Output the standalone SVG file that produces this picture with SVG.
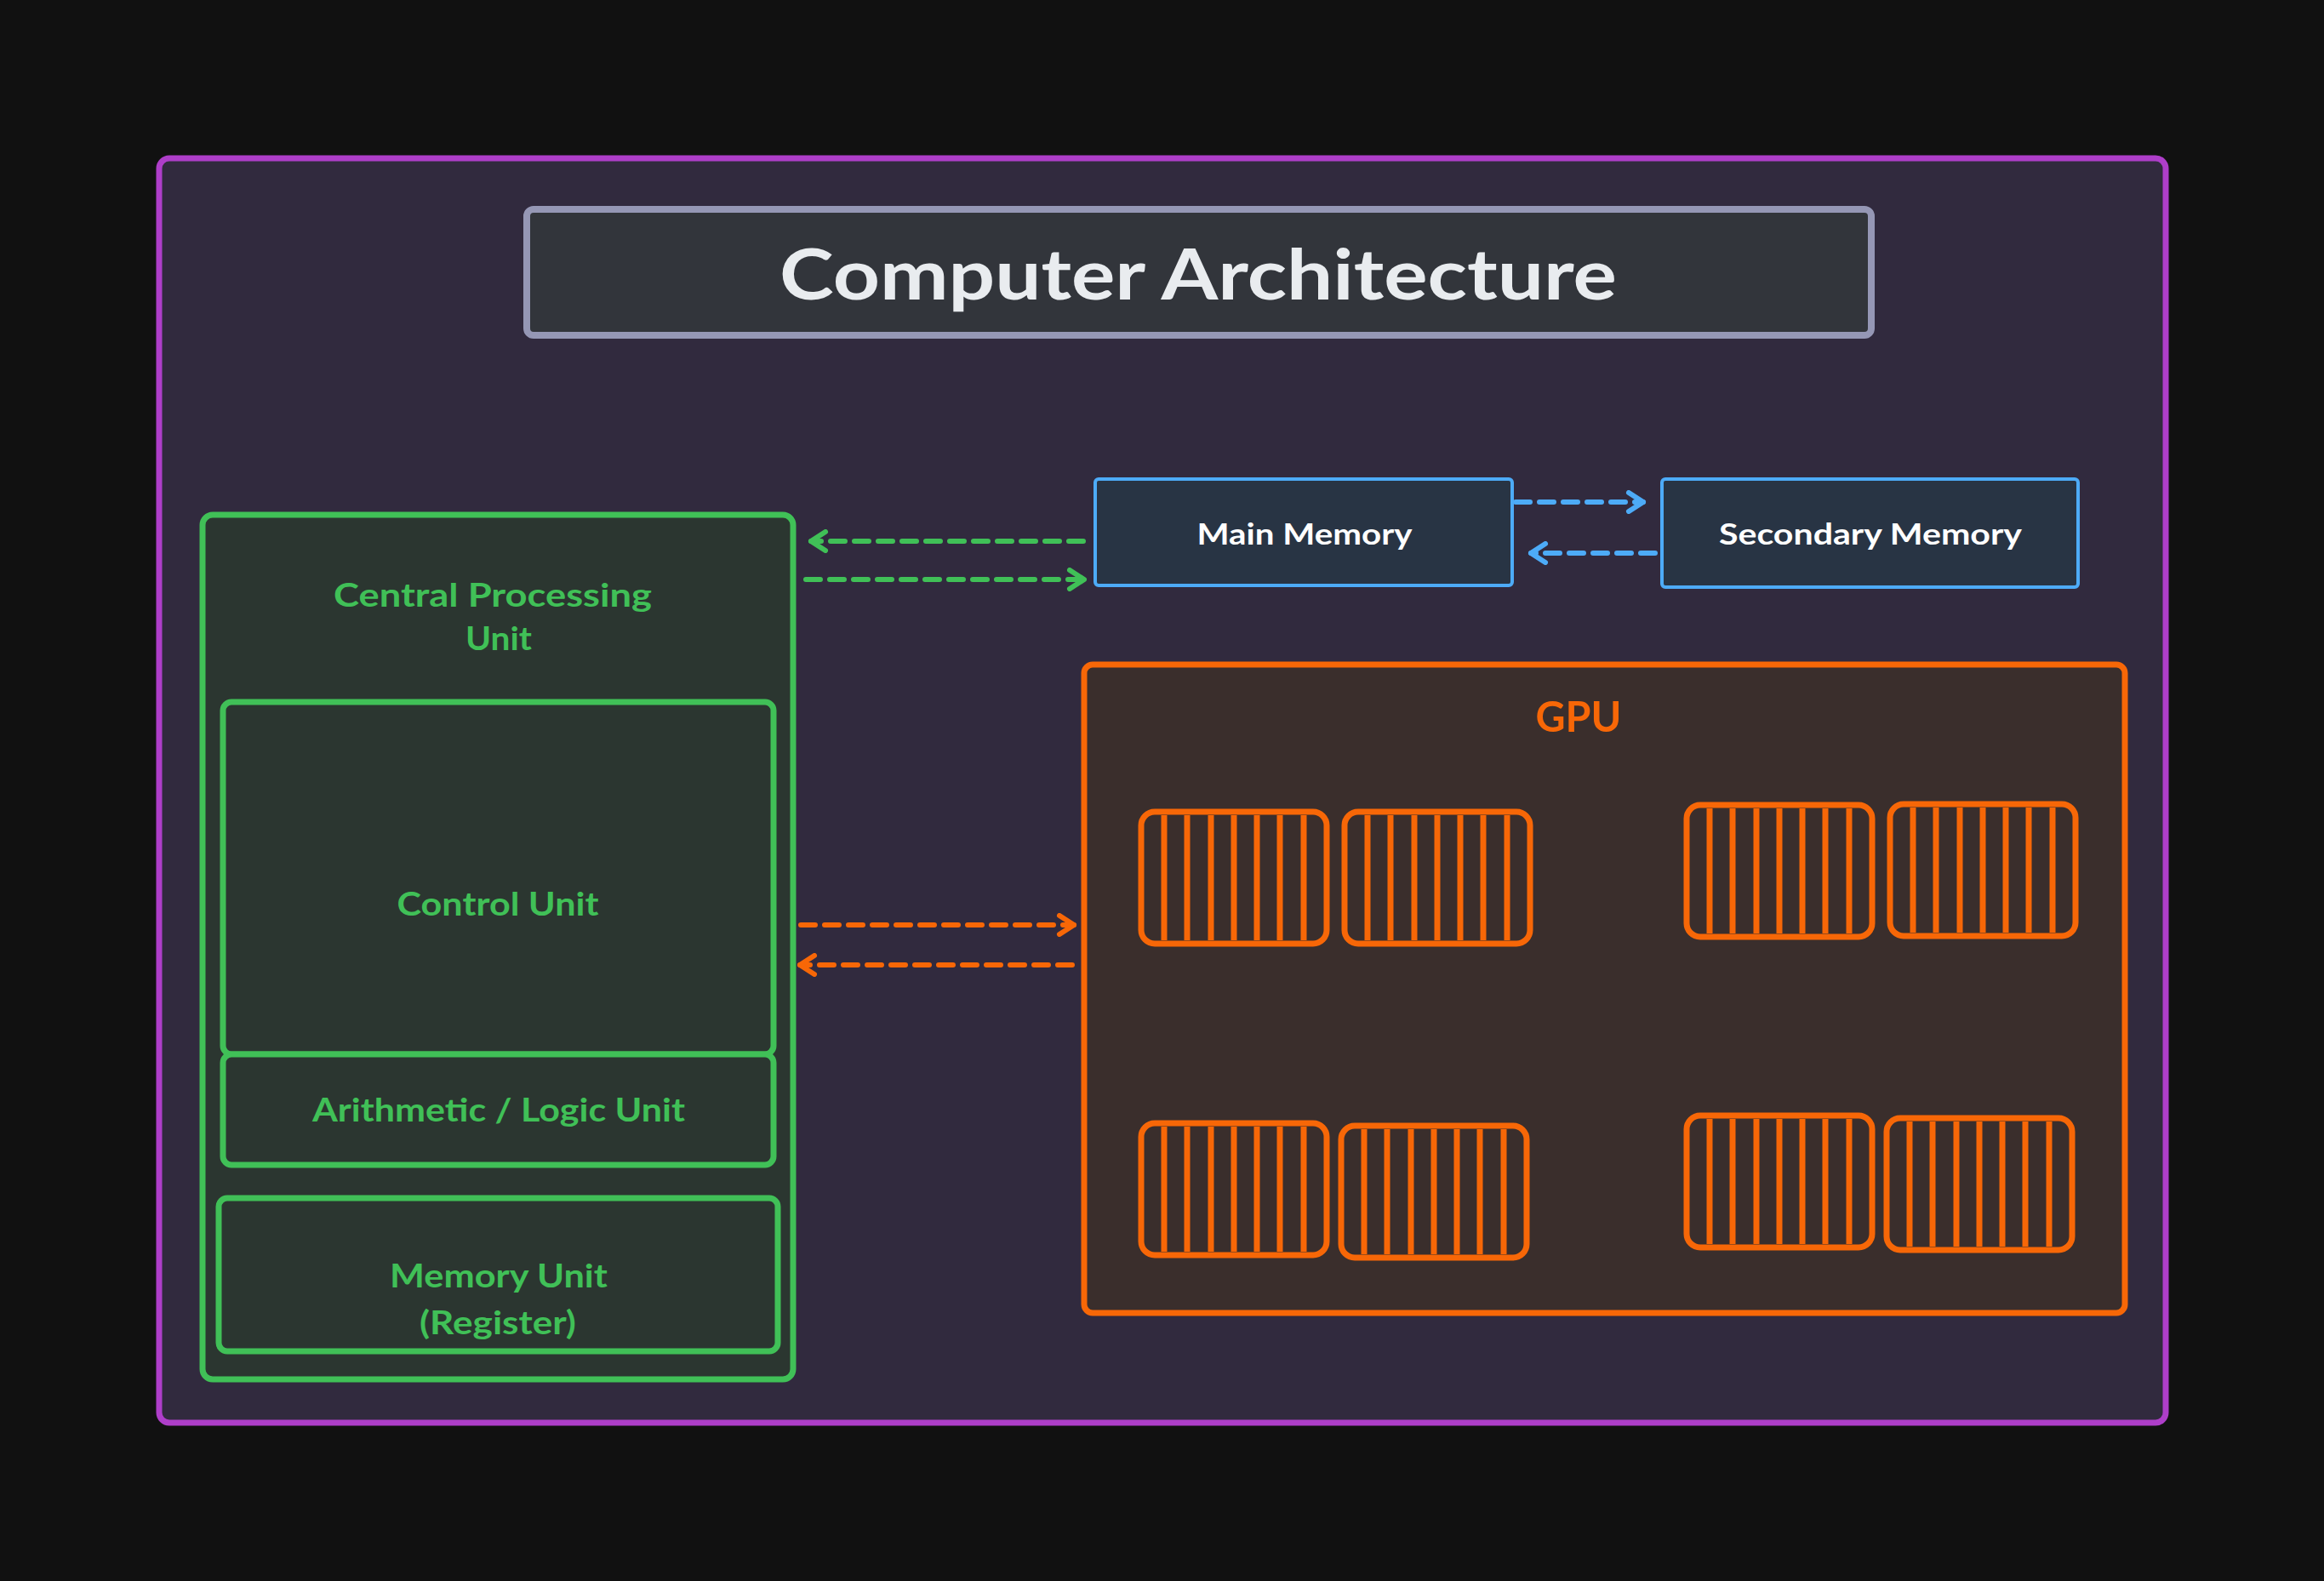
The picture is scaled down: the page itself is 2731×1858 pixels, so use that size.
<svg xmlns="http://www.w3.org/2000/svg" width="2731" height="1858" viewBox="0 0 2731 1858">
<defs>
<style>
.t{font-family:Lato,"Open Sans","Liberation Sans",sans-serif;font-weight:bold;text-anchor:middle;dominant-baseline:central}
.g{fill:#40c057;font-size:38px}
.w{fill:#ffffff;font-size:34px}
.gbox{fill:#2b3630;stroke:#40c057;stroke-width:7}
.bbox{fill:#283444;stroke:#4dabf7;stroke-width:4}
.core{fill:none;stroke:#f76707;stroke-width:7}
.ga{stroke:#40c057;stroke-width:6;fill:none;stroke-dasharray:17 11;stroke-linecap:round}
.ba{stroke:#4dabf7;stroke-width:6;fill:none;stroke-dasharray:17 11;stroke-linecap:round}
.oa{stroke:#f76707;stroke-width:6;fill:none;stroke-dasharray:17 11;stroke-linecap:round}
</style>
<marker id="mg" viewBox="0 0 26 28" refX="22" refY="14" markerWidth="26" markerHeight="28" markerUnits="userSpaceOnUse" orient="auto"><path d="M5,3 L22,14 L5,25" fill="none" stroke="#40c057" stroke-width="6" stroke-linecap="round" stroke-linejoin="round"/></marker>
<marker id="mb" viewBox="0 0 26 28" refX="22" refY="14" markerWidth="26" markerHeight="28" markerUnits="userSpaceOnUse" orient="auto"><path d="M5,3 L22,14 L5,25" fill="none" stroke="#4dabf7" stroke-width="6" stroke-linecap="round" stroke-linejoin="round"/></marker>
<marker id="mo" viewBox="0 0 26 28" refX="22" refY="14" markerWidth="26" markerHeight="28" markerUnits="userSpaceOnUse" orient="auto"><path d="M5,3 L22,14 L5,25" fill="none" stroke="#f76707" stroke-width="6" stroke-linecap="round" stroke-linejoin="round"/></marker>
<symbol id="coreblk" overflow="visible">
<rect class="core" x="0" y="0" width="218" height="155" rx="16"/>
<path class="core" d="M27,4V151M54,4V151M82,4V151M109,4V151M136,4V151M163,4V151M191,4V151"/>
</symbol>
</defs>
<rect x="0" y="0" width="2731" height="1858" fill="#111111"/>
<g id="frame">
<rect x="187" y="186" width="2358" height="1486" rx="12" fill="#312a3e" stroke="#ae3ec9" stroke-width="7"/>
</g>
<g id="title">
<rect x="619" y="246" width="1580" height="148" rx="8" fill="#32353b" stroke="#9597b5" stroke-width="8"/>
<text class="t" x="1408" y="320" font-size="82" fill="#e9ecef" textLength="984" lengthAdjust="spacingAndGlyphs">Computer Architecture</text>
</g>
<g id="main-memory">
<rect class="bbox" x="1287" y="563" width="490" height="125" rx="4"/>
<text class="t w" x="1533" y="626" textLength="253" lengthAdjust="spacingAndGlyphs">Main Memory</text>
</g>
<g id="secondary-memory">
<rect class="bbox" x="1953" y="563" width="489" height="127" rx="4"/>
<text class="t w" x="2198" y="626" textLength="356" lengthAdjust="spacingAndGlyphs">Secondary Memory</text>
</g>
<g id="cpu">
<rect class="gbox" x="238" y="605" width="694" height="1016" rx="12"/>
<text class="t g" x="579" y="698" textLength="374" lengthAdjust="spacingAndGlyphs">Central Processing</text>
<text class="t g" x="586" y="749" textLength="78" lengthAdjust="spacingAndGlyphs">Unit</text>
</g>
<g id="control-unit">
<rect class="gbox" x="262" y="825" width="647" height="414" rx="10"/>
<text class="t g" x="585" y="1061" textLength="237" lengthAdjust="spacingAndGlyphs">Control Unit</text>
</g>
<g id="alu">
<rect class="gbox" x="262" y="1239" width="647" height="130" rx="10"/>
<text class="t g" x="586" y="1303" textLength="438" lengthAdjust="spacingAndGlyphs">Arithmetic / Logic Unit</text>
</g>
<g id="memory-unit">
<rect class="gbox" x="257" y="1408" width="657" height="180" rx="10"/>
<text class="t g" x="586" y="1498" textLength="256" lengthAdjust="spacingAndGlyphs">Memory Unit</text>
<text class="t g" x="585" y="1553" textLength="184" lengthAdjust="spacingAndGlyphs">(Register)</text>
</g>
<g id="gpu">
<rect x="1274" y="781" width="1223" height="762" rx="10" fill="#3a2e2c" stroke="#f76707" stroke-width="7"/>
<text class="t" x="1855" y="841" font-size="50" fill="#f76707" textLength="101" lengthAdjust="spacingAndGlyphs">GPU</text>
<use href="#coreblk" x="1341" y="954"/>
<use href="#coreblk" x="1580" y="954"/>
<use href="#coreblk" x="1982" y="946"/>
<use href="#coreblk" x="2221" y="945"/>
<use href="#coreblk" x="1341" y="1320"/>
<use href="#coreblk" x="1576" y="1323"/>
<use href="#coreblk" x="1982" y="1311"/>
<use href="#coreblk" x="2217" y="1314"/>
</g>
<g id="connectors">
<path class="ga" d="M1273,636H953" marker-end="url(#mg)"/>
<path class="ga" d="M947,681H1274" marker-end="url(#mg)"/>
<path class="ba" d="M1781,590H1931" marker-end="url(#mb)"/>
<path class="ba" d="M1945,650H1799" marker-end="url(#mb)"/>
<path class="oa" d="M941,1087H1262" marker-end="url(#mo)"/>
<path class="oa" d="M1260,1134H940" marker-end="url(#mo)"/>
</g>
</svg>
